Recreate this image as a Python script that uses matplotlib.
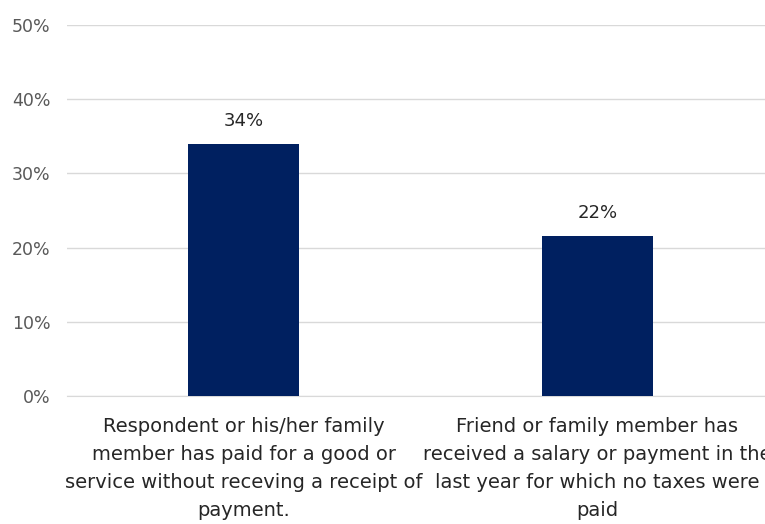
import matplotlib
matplotlib.use('Agg')
import matplotlib.pyplot as plt
from matplotlib.ticker import PercentFormatter

# values per category (share of respondents)
categories = [
    'Respondent or his/her family\nmember has paid for a good or\nservice without receving a receipt of\npayment.',
    'Friend or family member has\nreceived a salary or payment in the\nlast year for which no taxes were\npaid',
]
shares = [0.339, 0.216]
yticks = [0, 0.1, 0.2, 0.3, 0.4, 0.5]

bar_color = '#002060'

fig = plt.figure(figsize=(7.65, 5.24), dpi=100)
ax = fig.add_axes([67/765, 1-396/524, 707/765, 371/524])

x = range(len(categories))
bars = ax.bar(x, shares, width=0.314, color=bar_color, zorder=3)
for b, v in zip(bars, shares):
    ax.text(b.get_x()+b.get_width()/2, v+0.019, f'{v:.0%}', ha='center', va='bottom',
            fontsize=13, color='#262626')

ax.set_xlim(-0.5, 1.5)
ax.set_ylim(0, 0.5)
ax.set_yticks(yticks)
ax.yaxis.set_major_formatter(PercentFormatter(1.0, decimals=0))
ax.grid(axis='y', color='#d9d9d9', lw=1, zorder=0)
for s in ax.spines.values():
    s.set_visible(False)
ax.spines['bottom'].set_visible(True)
ax.spines['bottom'].set_color('#d9d9d9')
ax.tick_params(length=0)
ax.tick_params(axis='y', pad=12, labelsize=12.5, labelcolor='#595959')
ax.set_xticks(list(x))
ax.set_xticklabels(categories, fontsize=14, color='#262626', linespacing=1.6)
ax.tick_params(axis='x', pad=15)

fig.savefig('out.png', dpi=100)
